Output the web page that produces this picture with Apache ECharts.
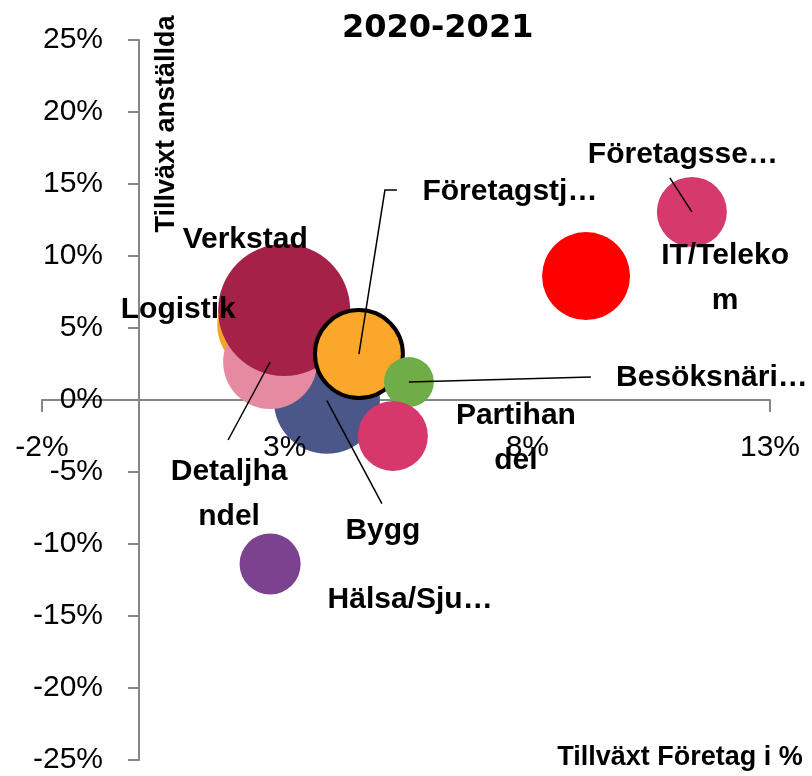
<!DOCTYPE html>
<html>
<head>
<meta charset="utf-8">
<script src="https://cdn.jsdelivr.net/npm/echarts@6/dist/echarts.min.js"></script>
<style>
  html, body { margin: 0; padding: 0; background: #fff; }
  #chart { width: 812px; height: 776px; }
</style>
</head>
<body>
<div id="chart"></div>
<script>
// branscher, ritordning bakifrån och fram
const branscher = ['Bygg', 'Logistik', 'Detaljhandel', 'Verkstad', 'Företagstjänster',
  'Besöksnäring', 'Partihandel', 'Hälsa/Sjukvård', 'IT/Telekom', 'Företagsservice'];
// etiketter som de syns i bilden
const etiketter = ['Bygg', 'Logistik', 'Detaljha\nndel', 'Verkstad', 'Företagstj…',
  'Besöksnäri…', 'Partihan\ndel', 'Hälsa/Sju…', 'IT/Teleko\nm', 'Företagsse…'];
// tillväxt företag i % (x)
const tillvaxtForetag = [3.87, 2.6, 2.7, 2.99, 4.53, 5.56, 5.23, 2.7, 9.21, 11.39];
// tillväxt anställda i % (y)
const tillvaxtAnstallda = [-0.05, 5.2, 2.64, 6.25, 3.19, 1.25, -2.5, -11.39, 8.61, 13.06];
// bubbelstorlek (relativ)
const storlek = [64.5, 52.9, 50.7, 100, 44.4, 14.3, 28.1, 21.4, 44.4, 28.1];
const xTicks = [-2, 3, 8, 13];

const farger = ['#4A5788', '#F5A623', '#E68AA1', '#A52147', '#FBA72A',
  '#70AD47', '#D7386B', '#7B4290', '#FF0000', '#D6396C'];
// etikettplacering relativt bubblans mitt (px)
const etikettOffset = [[56, 130], [-87, -15], [-41, 132], [-39, -70], [151, -162],
  [303, -4], [123, 2], [140, 36], [139, 2], [-9, -57]];
// hänvisningslinjer (px relativt mitten)
const ledare = {
  0: [[55, 103]],
  2: [[-42, 78]],
  4: [[26, -164], [38, -164]],
  5: [[182, -5]],
  9: [[-22, -34]]
};

const fontFam = 'Liberation Sans';

const data = branscher.map((namn, i) => ({
  name: namn,
  value: [tillvaxtForetag[i], tillvaxtAnstallda[i], storlek[i]],
  itemStyle: i === 4
    ? { color: farger[i], opacity: 1, borderColor: '#000', borderWidth: 4 }
    : { color: farger[i], opacity: 1 },
  label: {
    show: true,
    position: 'inside',
    offset: etikettOffset[i],
    formatter: etiketter[i],
    color: '#000'
  }
}));

const ledarData = Object.keys(ledare).map(k => {
  const i = +k;
  return [tillvaxtForetag[i], tillvaxtAnstallda[i], i];
});

const chart = echarts.init(document.getElementById('chart'));
chart.setOption({
  animation: false,
  textStyle: { fontFamily: fontFam },
  title: {
    text: '2020-2021',
    left: 337,
    top: 8,
    textStyle: { fontFamily: 'DejaVu Sans', fontWeight: 'bold', fontSize: 32, color: '#000' }
  },
  grid: { left: 42, right: 42, top: 40, bottom: 16, containLabel: false, outerBoundsMode: 'none' },
  xAxis: [{
    type: 'value',
    min: -2,
    max: 13,
    position: 'bottom',
    axisLine: { onZero: true, lineStyle: { color: '#868686', width: 2 } },
    axisTick: { show: true, length: 12, customValues: xTicks, lineStyle: { color: '#868686', width: 2 } },
    axisLabel: { show: false },
    splitLine: { show: false }
  }, {
    // bara etiketter, ovanpå bubblorna
    type: 'value',
    min: -2,
    max: 13,
    position: 'bottom',
    z: 10,
    axisLine: { show: true, onZero: true, lineStyle: { opacity: 0 } },
    axisTick: { show: false },
    axisLabel: {
      show: true,
      customValues: xTicks,
      margin: -327,
      fontSize: 30,
      color: '#000',
      fontFamily: fontFam,
      formatter: v => v + '%'
    },
    splitLine: { show: false }
  }],
  yAxis: {
    type: 'value',
    min: -25,
    max: 25,
    interval: 5,
    axisLine: { onZero: true, lineStyle: { color: '#868686', width: 2 } },
    axisTick: { show: true, length: 11, lineStyle: { color: '#868686', width: 2 } },
    axisLabel: {
      margin: -61,
      fontSize: 30,
      color: '#000',
      fontFamily: fontFam,
      formatter: v => v + '%'
    },
    splitLine: { show: false }
  },
  graphic: [{
    type: 'text',
    x: 167,
    y: 124,
    rotation: Math.PI / 2,
    style: {
      text: 'Tillväxt anställda',
      font: 'bold 27px "Liberation Sans"',
      fill: '#000',
      align: 'center',
      verticalAlign: 'middle'
    },
    z: 20
  }, {
    type: 'text',
    x: 680,
    y: 758,
    style: {
      text: 'Tillväxt Företag i %',
      font: 'bold 27px "Liberation Sans"',
      fill: '#000',
      align: 'center',
      verticalAlign: 'middle'
    },
    z: 20
  }],
  series: [{
    type: 'scatter',
    xAxisIndex: 0,
    data: data,
    symbolSize: v => 132 * Math.sqrt(v[2] / 100),
    label: {
      color: '#000',
      fontWeight: 'bold',
      fontSize: 30,
      lineHeight: 45,
      fontFamily: fontFam,
      align: 'center',
      verticalAlign: 'middle'
    },
    emphasis: { disabled: true }
  }, {
    type: 'custom',
    xAxisIndex: 0,
    coordinateSystem: 'cartesian2d',
    silent: true,
    z: 5,
    data: ledarData,
    encode: { x: 0, y: 1 },
    renderItem: (params, api) => {
      const i = api.value(2);
      const p = api.coord([api.value(0), api.value(1)]);
      const pts = [p].concat(ledare[i].map(o => [p[0] + o[0], p[1] + o[1]]));
      return {
        type: 'polyline',
        shape: { points: pts },
        style: { stroke: '#000', lineWidth: 1.5, fill: null }
      };
    }
  }]
});
</script>
</body>
</html>
